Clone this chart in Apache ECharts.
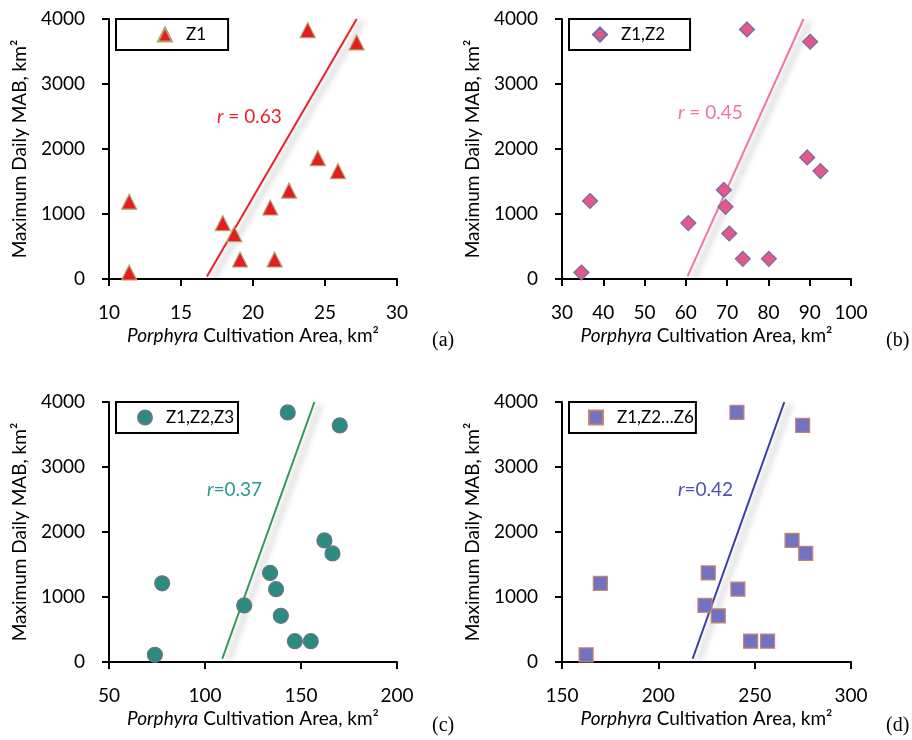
<!DOCTYPE html>
<html>
<head>
<meta charset="utf-8">
<script src="https://cdn.jsdelivr.net/npm/echarts@6/dist/echarts.min.js"></script>
<style>
  html, body { margin: 0; padding: 0; background: #fff; }
  #main { width: 912px; height: 740px; }
</style>
</head>
<body>
<div id="main"></div>
<script>
var myChart = echarts.init(document.getElementById('main'));

// panel (a) Z1
var aX = [11.4, 11.4, 17.9, 18.7, 19.1, 21.2, 21.5, 22.5, 23.8, 24.5, 25.9, 27.2];
var aY = [100, 1190, 860, 690, 300, 1100, 300, 1360, 3830, 1860, 1660, 3640];
var aTrendX = [16.8, 27.2];
var aTrendY = [40, 4000];

// panel (b) Z1,Z2
var bX = [34.7, 36.8, 60.6, 69.2, 69.6, 70.5, 73.8, 80.1, 74.8, 89.4, 92.6, 90.1];
var bY = [100, 1200, 860, 1370, 1110, 700, 310, 310, 3840, 1870, 1660, 3650];
var bTrendX = [60.4, 88.5];
var bTrendY = [40, 4000];

// panel (c) Z1,Z2,Z3
var cX = [73.9, 77.7, 120.4, 133.9, 137.0, 139.5, 146.8, 155.1, 143.1, 162.2, 166.4, 170.2];
var cY = [110, 1210, 870, 1370, 1120, 710, 320, 320, 3840, 1870, 1670, 3640];
var cTrendX = [109.0, 157.0];
var cTrendY = [50, 4000];

// panel (d) Z1,Z2...Z6
var dX = [162.5, 169.9, 224.2, 225.9, 241.3, 231.1, 247.9, 256.7, 240.8, 269.4, 276.5, 274.9];
var dY = [110, 1210, 870, 1370, 1120, 710, 320, 320, 3840, 1870, 1670, 3640];
var dTrendX = [217.8, 265.4];
var dTrendY = [50, 4000];

var names = ['Z1', 'Z1,Z2', 'Z1,Z2,Z3', 'Z1,Z2…Z6'];
var rLabels = ['{i|r} = 0.63', '{i|r} = 0.45', '{i|r}=0.37', '{i|r}=0.42'];
var xMin = [10, 30, 50, 150];
var xMax = [30, 100, 200, 300];
var xStep = [5, 10, 50, 50];

function pairs(xs, ys) {
    return xs.map(function (x, i) { return [x, ys[i]]; });
}

var panels = [
    { pts: pairs(aX, aY), trend: pairs(aTrendX, aTrendY), symbol: 'triangle', size: 15,
      fill: '#e41e1e', edge: '#b3a36e', line: '#e8212a', text: '#e8212a',
      grid: { left: 109, top: 19, width: 288, height: 260 },
      legend: { left: 116, top: 19, padding: [7, 22, 7, 41] },
      rPos: [217, 107], tag: '(a)', tagPos: [432, 331] },
    { pts: pairs(bX, bY), trend: pairs(bTrendX, bTrendY), symbol: 'diamond', size: 15,
      fill: '#e4578a', edge: '#6d6fa6', line: '#f07896', text: '#f07896',
      grid: { left: 562, top: 19, width: 289, height: 260 },
      legend: { left: 569, top: 19, padding: [7, 25, 7, 23] },
      rPos: [678, 103], tag: '(b)', tagPos: [886, 331] },
    { pts: pairs(cX, cY), trend: pairs(cTrendX, cTrendY), symbol: 'circle', size: 15,
      fill: '#2a8c80', edge: '#6f7385', line: '#2e9a5a', text: '#2a9890',
      grid: { left: 109, top: 402, width: 288, height: 260 },
      legend: { left: 116, top: 402, padding: [7, 4, 7, 21] },
      rPos: [207, 480], tag: '(c)', tagPos: [432, 716] },
    { pts: pairs(dX, dY), trend: pairs(dTrendX, dTrendY), symbol: 'rect', size: 14,
      fill: '#7371c2', edge: '#c4876a', line: '#3c3ca8', text: '#5050b0',
      grid: { left: 562, top: 402, width: 289, height: 260 },
      legend: { left: 569, top: 402, padding: [7, 2, 7, 19] },
      rPos: [678, 480], tag: '(d)', tagPos: [886, 716] }
];

var font = 'Lato';
var grids = [], xAxes = [], yAxes = [], series = [], legends = [], graphics = [];

panels.forEach(function (p, i) {
    grids.push(p.grid);
    xAxes.push({
        gridIndex: i, type: 'value', min: xMin[i], max: xMax[i], interval: xStep[i],
        name: '{i|Porphyra} Cultivation Area, km²',
        nameLocation: 'middle', nameGap: 47,
        nameTextStyle: {
            fontFamily: font, fontSize: 19, color: '#000',
            rich: { i: { fontFamily: font, fontSize: 19, fontStyle: 'italic', color: '#000' } }
        },
        axisLine: { show: true, onZero: false, lineStyle: { color: '#000', width: 2 } },
        axisTick: { show: true, length: 7, lineStyle: { color: '#000', width: 2 } },
        axisLabel: { margin: 24, fontFamily: font, fontSize: 19, color: '#000',
                     formatter: function (v) { return String(v); } },
        splitLine: { show: false }
    });
    yAxes.push({
        gridIndex: i, type: 'value', min: 0, max: 4000, interval: 1000,
        name: 'Maximum Daily MAB, km²',
        nameLocation: 'middle', nameGap: 80,
        nameTextStyle: { fontFamily: font, fontSize: 19, color: '#000' },
        axisLine: { show: true, onZero: false, lineStyle: { color: '#000', width: 2 } },
        axisTick: { show: true, length: 7, lineStyle: { color: '#000', width: 2 } },
        axisLabel: { margin: 24, fontFamily: font, fontSize: 19, color: '#000',
                     formatter: function (v) { return String(v); } },
        splitLine: { show: false }
    });
    series.push({
        name: names[i], type: 'scatter', xAxisIndex: i, yAxisIndex: i,
        symbol: p.symbol, symbolSize: p.size,
        itemStyle: { color: p.fill, borderColor: p.edge, borderWidth: 1.2, opacity: 1 },
        data: p.pts, z: 3
    });
    series.push({
        name: names[i] + ' trend', type: 'line', xAxisIndex: i, yAxisIndex: i,
        symbol: 'none', silent: true,
        lineStyle: {
            color: p.line, width: 2,
            shadowColor: 'rgba(0,0,0,0.35)', shadowBlur: 6, shadowOffsetX: 6, shadowOffsetY: 2
        },
        data: p.trend, z: 2
    });
    legends.push({
        data: [names[i]], left: p.legend.left, top: p.legend.top,
        orient: 'horizontal', padding: p.legend.padding,
        borderColor: '#000', borderWidth: 2, borderRadius: 0,
        itemWidth: 14, itemHeight: 14,
        textStyle: { fontFamily: font, fontSize: 17, color: '#000', padding: [0, 0, 0, 9] },
        selectedMode: false
    });
    graphics.push({
        type: 'text', left: p.rPos[0], top: p.rPos[1],
        style: {
            text: rLabels[i], fill: p.text, font: '19px ' + font,
            rich: { i: { fontStyle: 'italic', fontSize: 19, fontFamily: font, fill: p.text } }
        }
    });
    graphics.push({
        type: 'text', left: p.tagPos[0], top: p.tagPos[1],
        style: { text: p.tag, fill: '#000', font: '20px "Liberation Serif"' }
    });
});

var option = {
    animation: false,
    backgroundColor: '#fff',
    grid: grids,
    xAxis: xAxes,
    yAxis: yAxes,
    legend: legends,
    series: series,
    graphic: graphics
};

myChart.setOption(option);
</script>
</body>
</html>
